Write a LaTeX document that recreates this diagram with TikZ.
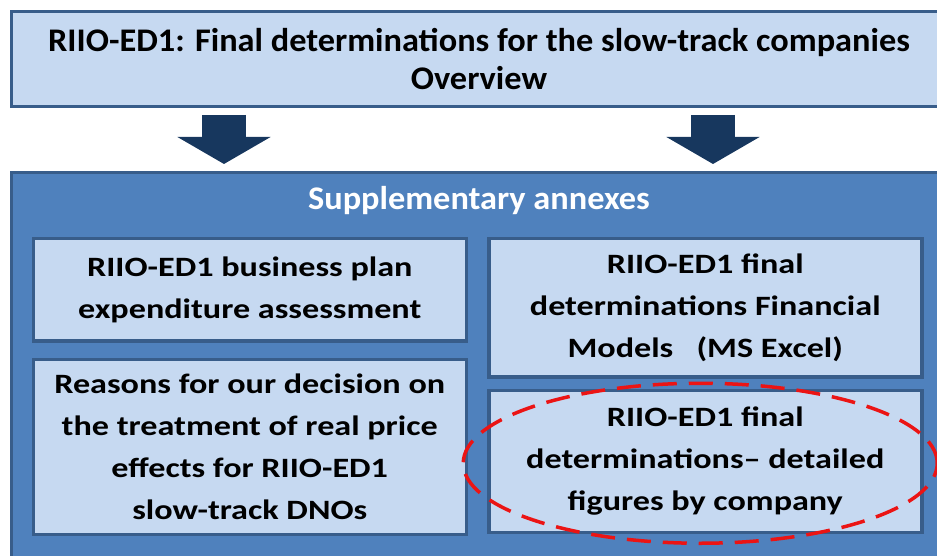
\documentclass[tikz,border=0pt]{standalone}
\usepackage{fontspec}
\setmainfont{Carlito}
\newfontfamily\headfont{Carlito}[FakeStretch=1.04]
\newfontfamily\boxfont{Carlito}[FakeStretch=1.22]
\usepackage{tikz}
\usetikzlibrary{arrows.meta}
\usetikzlibrary{positioning}
\usepackage{xcolor}

\definecolor{paleblue}{RGB}{198,217,241}
\definecolor{midblue}{RGB}{79,129,189}
\definecolor{edgeblue}{RGB}{56,93,138}
\definecolor{navyblue}{RGB}{23,55,94}
\definecolor{markred}{RGB}{235,20,20}

\begin{document}
\begin{tikzpicture}[x=1pt, y=-1pt, node distance=15pt]
\tikzstyle{titlebox} = [draw=edgeblue, line width=3pt, fill=paleblue, align=center, inner sep=0pt,
	font=\headfont\bfseries\fontsize{33}{38}\selectfont]
\tikzstyle{annexbox} = [draw=edgeblue, line width=3.5pt, fill=paleblue, align=center, inner sep=0pt,
	minimum width=433pt, font=\boxfont\bfseries\fontsize{28}{42}\selectfont]
\tikzstyle{downarrow} = [draw=navyblue, line width=44pt, line cap=butt,
	-{Triangle[width=92pt, length=27pt]}]
\tikzstyle{hilite} = [draw=markred, line width=3.5pt, dash pattern=on 24pt off 12pt]

\useasboundingbox (0,0) rectangle (937,556);
\clip (0,0) rectangle (937,556);

\node[titlebox, minimum width=936pt, minimum height=95pt] (top) at (479,59)
	{RIIO-ED1: Final determinations for the slow-track companies\\Overview};
\node[draw=edgeblue, line width=3pt, fill=midblue, minimum width=936pt, minimum height=430pt]
	(annex) [below=63pt of top] {};
\node[text=white, font=\headfont\bfseries\fontsize{33}{38}\selectfont]
	(annextitle) at ([yshift=-30pt]annex.north) {Supplementary annexes};

\node[annexbox, minimum height=102pt, anchor=north west] (bplan)
	at ([xshift=22pt, yshift=-66pt]annex.north west)
	{RIIO-ED1 business plan\\expenditure assessment};
\node[annexbox, minimum height=175pt] (rpe) [below=of bplan]
	{Reasons for our decision on\\the treatment of real price\\effects for RIIO-ED1\\slow-track DNOs};
\node[annexbox, minimum height=138pt] (fmod) [right=19pt of bplan.north east, anchor=north west]
	{RIIO-ED1 final\\determinations Financial\\Models \ \ (MS Excel)};
\node[annexbox, minimum height=142pt] (dfig) [below=10pt of fmod]
	{RIIO-ED1 final\\determinations\textendash\ detailed\\figures by company};

% arrows from the overview down to the annexes
\coordinate (leftx) at (224,0);
\coordinate (rightx) at (713,0);
\draw[downarrow] ([yshift=-7pt]top.south -| leftx) -- ([yshift=7pt]annex.north -| leftx);
\draw[downarrow] ([yshift=-7pt]top.south -| rightx) -- ([yshift=7pt]annex.north -| rightx);

% red ring round the detailed figures
\draw[hilite] ([xshift=-5pt, yshift=-2pt]dfig.center) ellipse [x radius=237pt, y radius=80pt];

\end{tikzpicture}
\end{document}
